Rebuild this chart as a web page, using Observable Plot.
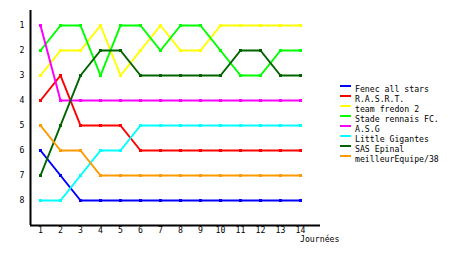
<!DOCTYPE html>
<html><head><meta charset="utf-8">
<script src="https://cdn.jsdelivr.net/npm/d3@7"></script>
<script src="https://cdn.jsdelivr.net/npm/@observablehq/plot@0.6"></script>
<style>body{margin:0;background:#fff}</style>
</head><body><div id="chart"></div>
<script>
const rounds = [1,2,3,4,5,6,7,8,9,10,11,12,13,14];
const ranks = [1,2,3,4,5,6,7,8];
const teams = ["Fenec all stars","R.A.S.R.T.","team fredon 2","Stade rennais FC.","A.S.G","Little Gigantes","SAS Epinal","meilleurEquipe/38"];
const colors = ["#0000ff","#ff0000","#ffff00","#00ff00","#ff00ff","#00ffff","#006400","#ff9900"];
const fenec    = [6,7,8,8,8,8,8,8,8,8,8,8,8,8];
const rasrt    = [4,3,5,5,5,6,6,6,6,6,6,6,6,6];
const fredon   = [3,2,2,1,3,2,1,2,2,1,1,1,1,1];
const rennais  = [2,1,1,3,1,1,2,1,1,2,3,3,2,2];
const asg      = [1,4,4,4,4,4,4,4,4,4,4,4,4,4];
const gigantes = [8,8,7,6,6,5,5,5,5,5,5,5,5,5];
const epinal   = [7,5,3,2,2,3,3,3,3,3,2,2,3,3];
const meilleur = [5,6,6,7,7,7,7,7,7,7,7,7,7,7];
const series = [fenec,rasrt,fredon,rennais,asg,gigantes,epinal,meilleur];
const xLabel = "Journées";

const data = [];
series.forEach((s,i)=>s.forEach((v,j)=>data.push({team:teams[i], round:rounds[j], rank:v})));

const font = "DejaVu Sans Mono";
const plot = Plot.plot({
  width:460, height:255,
  marginLeft:30, marginRight:140, marginTop:10, marginBottom:30,
  style:{fontFamily:font, fontSize:"8.2px", color:"#000", background:"#fff"},
  x:{domain:[0.5,15], axis:null},
  y:{domain:[0.4,9], reverse:true, axis:null},
  color:{domain:teams, range:colors},
  marks:[
    Plot.axisY(ranks,{tickSize:0, tickPadding:6, label:null, fill:"#000"}),
    Plot.axisX(rounds,{tickSize:0, tickPadding:2, label:null, fill:"#000"}),
    Plot.line(data,{x:"round", y:"rank", z:"team", stroke:"team", strokeWidth:2}),
    Plot.dot(data,{x:"round", y:"rank", fill:"team", symbol:"square", r:1.7}),
    Plot.ruleX([0.5],{stroke:"#000", strokeWidth:2}),
    Plot.ruleY([9],{stroke:"#000", strokeWidth:2})
  ]
});
document.getElementById("chart").appendChild(plot);

const svg = d3.select(plot);
svg.append("text").attr("x",300).attr("y",242).attr("text-anchor","start").attr("font-family",font).attr("font-size","8.2px").attr("fill","#000").text(xLabel);
const lg = svg.append("g").attr("text-anchor","start");
teams.forEach((t,i)=>{
  const y = 86 + i*10;
  lg.append("line").attr("x1",340).attr("x2",351).attr("y1",y).attr("y2",y).attr("stroke",colors[i]).attr("stroke-width",2);
  lg.append("text").attr("x",355).attr("y",y+6).attr("text-anchor","start").attr("font-family",font).attr("font-size","8.2px").attr("fill","#000").text(t);
});
</script></body></html>
